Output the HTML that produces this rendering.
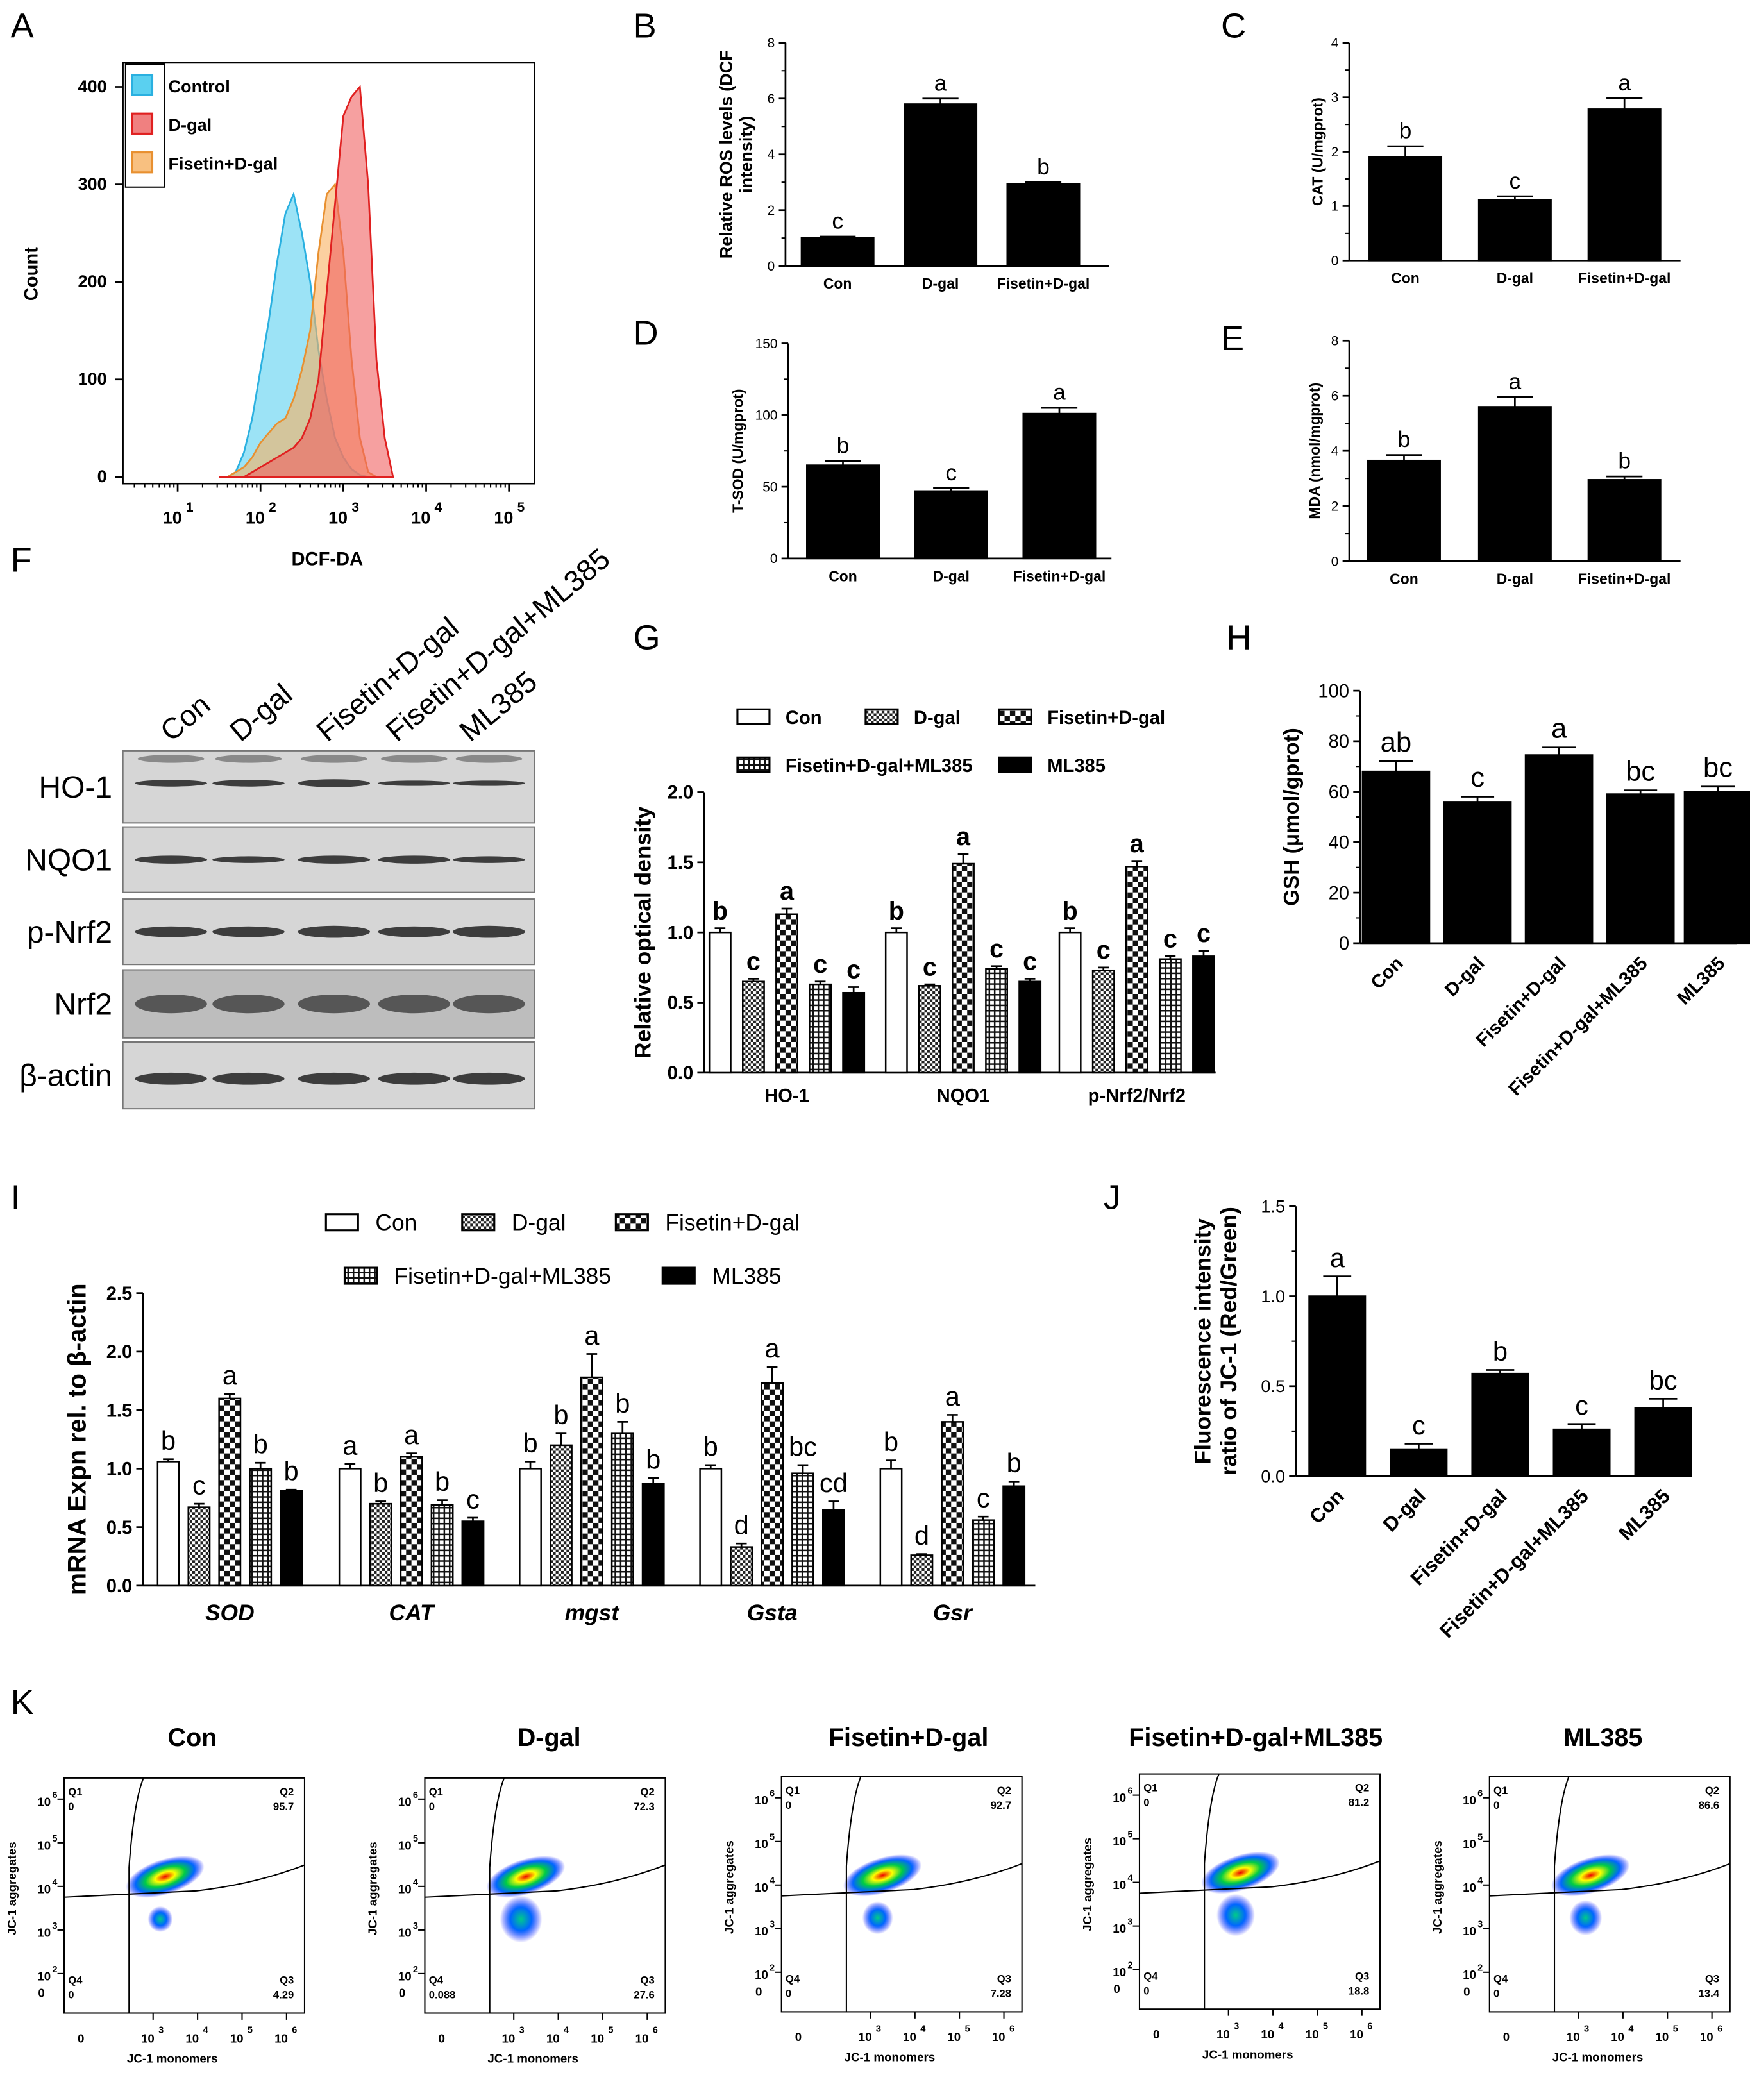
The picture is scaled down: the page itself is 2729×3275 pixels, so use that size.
<!DOCTYPE html>
<html><head><meta charset="utf-8"><style>
html,body{margin:0;padding:0;background:#fff}
svg{display:block;font-family:"Liberation Sans",Arial,sans-serif}
</style></head><body>
<svg id="fig" xmlns="http://www.w3.org/2000/svg" width="2729" height="3275" viewBox="0 0 1310 1572">
<defs>
<pattern id="pDgal" width="4" height="4" patternUnits="userSpaceOnUse"><rect width="4" height="4" fill="#fff"/><rect width="2" height="2" fill="#222"/><rect x="2" y="2" width="2" height="2" fill="#222"/></pattern>
<pattern id="pFis" width="8" height="8" patternUnits="userSpaceOnUse"><rect width="8" height="8" fill="#fff"/><rect width="4" height="4" fill="#111"/><rect x="4" y="4" width="4" height="4" fill="#111"/></pattern>
<pattern id="pFdm" width="4" height="4" patternUnits="userSpaceOnUse"><rect width="4" height="4" fill="#fff"/><rect width="4" height="1.2" fill="#111"/><rect width="1.2" height="4" fill="#111"/></pattern>
<radialGradient id="blob"><stop offset="0" stop-color="#e00"/><stop offset="0.25" stop-color="#ff0"/><stop offset="0.5" stop-color="#0c4"/><stop offset="0.75" stop-color="#06f"/><stop offset="1" stop-color="#00f" stop-opacity="0"/></radialGradient>
<radialGradient id="blobB"><stop offset="0" stop-color="#0c8"/><stop offset="0.5" stop-color="#06f"/><stop offset="1" stop-color="#00f" stop-opacity="0"/></radialGradient>
</defs>
<g id="root"></g>
</svg>
<script>
// ---------- data ----------
const histLog=[1.5,1.6,1.7,1.8,1.9,2.0,2.1,2.2,2.3,2.4,2.5,2.6,2.7,2.8,2.9,3.0,3.1,3.2,3.3,3.4,3.5,3.6];
const histControl=[0,0,5,25,60,110,160,220,270,290,250,200,130,80,40,20,8,2,0,0,0,0];
const histDgal=[0,0,0,0,5,10,15,20,25,30,40,60,100,190,280,370,390,400,300,120,40,0];
const histFis=[0,0,5,10,20,35,45,55,60,80,110,150,230,290,300,230,120,40,5,0,0,0];
const groups3=["Con","D-gal","Fisetin+D-gal"];
const rosVals=[1.0,5.8,2.95], rosErr=[0.05,0.2,0.05], rosLet=["c","a","b"];
const catVals=[1.9,1.12,2.78], catErr=[0.2,0.06,0.2], catLet=["b","c","a"];
const sodVals=[65,47,101], sodErr=[3,2,4], sodLet=["b","c","a"];
const mdaVals=[3.65,5.6,2.95], mdaErr=[0.2,0.35,0.12], mdaLet=["b","a","b"];
const groups5=["Con","D-gal","Fisetin+D-gal","Fisetin+D-gal+ML385","ML385"];
const gCats=["HO-1","NQO1","p-Nrf2/Nrf2"];
const gVals=[[1.0,0.65,1.13,0.63,0.57],[1.0,0.62,1.49,0.74,0.65],[1.0,0.73,1.47,0.81,0.83]];
const gErr=[[0.03,0.02,0.04,0.02,0.04],[0.03,0.01,0.07,0.02,0.02],[0.03,0.02,0.04,0.02,0.04]];
const gLet=[["b","c","a","c","c"],["b","c","a","c","c"],["b","c","a","c","c"]];
const gshVals=[68,56,74.5,59,60], gshErr=[4,2,3,1.5,2], gshLet=["ab","c","a","bc","bc"];
const iCats=["SOD","CAT","mgst","Gsta","Gsr"];
const iVals=[[1.06,0.67,1.6,1.0,0.81],[1.0,0.7,1.1,0.69,0.55],[1.0,1.2,1.78,1.3,0.87],[1.0,0.33,1.73,0.96,0.65],[1.0,0.26,1.4,0.56,0.85]];
const iErr=[[0.02,0.03,0.04,0.05,0.01],[0.04,0.02,0.03,0.04,0.03],[0.06,0.1,0.2,0.1,0.05],[0.03,0.03,0.14,0.07,0.07],[0.07,0.01,0.06,0.03,0.04]];
const iLet=[["b","c","a","b","b"],["a","b","a","b","c"],["b","b","a","b","b"],["b","d","a","bc","cd"],["b","d","a","c","b"]];
const jVals=[1.0,0.15,0.57,0.26,0.38], jErr=[0.11,0.03,0.02,0.03,0.05], jLet=["a","c","b","c","bc"];
const kTitles=["Con","D-gal","Fisetin+D-gal","Fisetin+D-gal+ML385","ML385"];
const kQ2=["95.7","72.3","92.7","81.2","86.6"], kQ3=["4.29","27.6","7.28","18.8","13.4"], kQ4=["0","0.088","0","0","0"];

// ---------- helpers ----------
const NS="http://www.w3.org/2000/svg", root=document.getElementById('root');
function el(tag,attrs,parent,txt){const e=document.createElementNS(NS,tag);for(const k in attrs)e.setAttribute(k,attrs[k]);if(txt!==undefined)e.textContent=txt;(parent||root).appendChild(e);return e;}
function T(x,y,s,size,opts){opts=opts||{};const e=el('text',{x:x,y:y,'font-size':size,'text-anchor':opts.a||'middle','font-weight':opts.b?'bold':'normal','font-style':opts.i?'italic':'normal',fill:'#000'},opts.p,s);if(opts.r!==undefined)e.setAttribute('transform','rotate('+opts.r+' '+x+' '+y+')');return e;}
function L(x1,y1,x2,y2,w,p){const e=el('line',{x1:x1,y1:y1,x2:x2,y2:y2,stroke:'#000','stroke-width':w||1.3},p);return e;}
function panelLetter(s,x,y){T(x,y,s,26,{a:'start',n:'panel-letter-'+s.toLowerCase()});}

function barChart(c){
  const g=el('g',{});
  const sy=v=>c.y0-(v/c.ymax)*(c.y0-c.y1);
  L(c.x0,c.y1,c.x0,c.y0,1.3,g);L(c.x0,c.y0,c.x2,c.y0,1.3,g);
  c.ticks.forEach(t=>{const y=sy(t);L(c.x0-5,y,c.x0,y,1.3,g);T(c.x0-8,y+c.ts*0.35,c.dec?t.toFixed(c.dec):String(t),c.ts,{a:'end',p:g,b:c.tb,n:'y-tick-label'});});
  if(c.minor)c.ticks.forEach((t,i)=>{if(i<c.ticks.length-1){const y=sy((t+c.ticks[i+1])/2);L(c.x0-3,y,c.x0,y,1,g);}});
  c.vals.forEach((v,i)=>{const cx=c.cx[i],w=c.bw,y=sy(v);
    const r=el('rect',{x:cx-w/2,y:y,width:w,height:c.y0-y,fill:c.fills?c.fills[i]:'#000',stroke:'#000','stroke-width':1.2},g);
    
    const ye=sy(v+c.err[i]);L(cx,y,cx,ye,1.3,g);L(cx-w*0.25,ye,cx+w*0.25,ye,1.3,g);
    T(cx,ye-c.ls*0.35,c.lets[i],c.ls,{p:g,b:c.lb,n:'significance-letter'});
  });
  if(c.cats)c.cats.forEach((s,i)=>{if(c.rot)T(c.cx[i]+6,c.y0+16,s,c.cs,{a:'end',r:-45,p:g,b:c.cb,n:'x-tick-label'});else T(c.cx[i],c.y0+c.cs+6,s,c.cs,{p:g,b:c.cb,n:'x-tick-label'});});
  if(c.title){const tx=c.tx,ty=(c.y0+c.y1)/2;c.title.forEach((s,k)=>T(tx+k*c.tsz*1.15,ty,s,c.tsz,{r:-90,p:g,b:true,n:'y-axis-title'}));}
  return {g:g,sy:sy};
}

// ---------- Panel A ----------
panelLetter("A",8,28);
(function(){
  const g=el('g',{});
  const sx=l=>133+(l-1)*62, sy=c=>357-c*0.73;
  el('rect',{x:92,y:47,width:308,height:315,fill:'none',stroke:'#000','stroke-width':1.2},g);
  function area(arr,fill,stroke,name){let d='M'+sx(histLog[0])+','+sy(0);histLog.forEach((l,i)=>d+=' L'+sx(l).toFixed(1)+','+sy(arr[i]).toFixed(1));d+=' L'+sx(histLog[histLog.length-1])+','+sy(0)+'Z';
    const p=el('path',{d:d,fill:fill,stroke:stroke,'stroke-width':1.3,'fill-opacity':0.6},g);}
  area(histControl,'#5ad0f0','#2ab0e0','histogram-control');
  area(histFis,'#f8b060','#e89030','histogram-fisetin');
  area(histDgal,'#f06060','#e02020','histogram-dgal');
  [0,100,200,300,400].forEach(t=>{L(86,sy(t),92,sy(t),1.3,g);T(80,sy(t)+4,String(t),13,{a:'end',b:true,p:g,n:'y-tick-label'});});
  [1,2,3,4,5].forEach(d=>{L(sx(d),362,sx(d),368,1.3,g);for(let k=2;k<10;k++){const x=sx(d-1+Math.log10(k));if(x>92)L(x,362,x,365,1,g);}
    T(sx(d)-4,392,'10',13,{b:true,p:g,n:'x-tick-label'});T(sx(d)+9,383,String(d),10,{b:true,p:g,n:'x-tick-exp'});});
  T(245,423,'DCF-DA',14,{b:true,p:g,n:'x-axis-title'});
  T(28,205,'Count',14,{b:true,r:-90,p:g,n:'y-axis-title'});
  el('rect',{x:94,y:48,width:29,height:92,fill:'#fff',stroke:'#000','stroke-width':1},g);
  [['Control','#5ad0f0','#2ab0e0'],['D-gal','#f08080','#e02020'],['Fisetin+D-gal','#f8c080','#e89030']].forEach((e,i)=>{const y=56+i*29;
    const r=el('rect',{x:99,y:y,width:15,height:15,fill:e[1],stroke:e[2],'stroke-width':1.5},g);
    T(126,y+13,e[0],13,{a:'start',b:true,p:g,n:'legend-entry'});});
})();

// ---------- B-E ----------
panelLetter("B",474,28);
barChart({name:'ros-chart',x0:588,x2:830,y0:199,y1:32,ymax:8,ticks:[0,2,4,6,8],ts:10,cx:[627,704,781],bw:54,vals:rosVals,err:rosErr,lets:rosLet,ls:17,cats:groups3,cs:11,cb:true,title:['Relative ROS levels (DCF','intensity)'],tx:548,tsz:13,minor:true});
panelLetter("C",914,28);
barChart({name:'cat-chart',x0:1010,x2:1258,y0:195,y1:32,ymax:4,ticks:[0,1,2,3,4],ts:10,cx:[1052,1134,1216],bw:54,vals:catVals,err:catErr,lets:catLet,ls:17,cats:groups3,cs:11,cb:true,title:['CAT (U/mgprot)'],tx:990,tsz:11,minor:true});
panelLetter("D",474,258);
barChart({name:'sod-chart',x0:590,x2:832,y0:418,y1:257,ymax:150,ticks:[0,50,100,150],ts:10,cx:[631,712,793],bw:54,vals:sodVals,err:sodErr,lets:sodLet,ls:17,cats:groups3,cs:11,cb:true,title:['T-SOD (U/mgprot)'],tx:556,tsz:11,minor:true});
panelLetter("E",914,262);
barChart({name:'mda-chart',x0:1010,x2:1258,y0:420,y1:255,ymax:8,ticks:[0,2,4,6,8],ts:10,cx:[1051,1134,1216],bw:54,vals:mdaVals,err:mdaErr,lets:mdaLet,ls:17,cats:groups3,cs:11,cb:true,title:['MDA (nmol/mgprot)'],tx:988,tsz:11,minor:true});

// ---------- F western blot ----------
panelLetter("F",8,428);
(function(){
  const g=el('g',{});
  const lanes=[128,186,250,310,366];
  const rows=[["HO-1",562,616,0.45,[5,5,6,4,4]],["NQO1",619,668,0.5,[6,5,6,6,5]],["p-Nrf2",673,722,0.5,[8,8,9,8,9]],["Nrf2",726,777,0.5,[14,14,14,14,14]],["β-actin",780,830,0.55,[9,9,9,9,9]]];
  rows.forEach(r=>{const bg=r[0]=="Nrf2"?'#bdbdbd':'#d6d6d6';
    const box=el('rect',{x:92,y:r[1],width:308,height:r[2]-r[1],fill:bg,stroke:'#777','stroke-width':1},g);
    const cy=r[1]+(r[2]-r[1])*r[3];
    lanes.forEach((x,i)=>{el('ellipse',{cx:x,cy:cy,rx:27,ry:r[4][i]/2,fill:r[0]=="Nrf2"?'#444':'#222','fill-opacity':0.85},g);});
    if(r[0]=="HO-1")lanes.forEach(x=>el('ellipse',{cx:x,cy:r[1]+6,rx:25,ry:3,fill:'#555','fill-opacity':0.6},g));
    T(84,(r[1]+r[2])/2+8,r[0],23,{a:'end',p:g,n:'blot-label'});});
  const heads=["Con","D-gal","Fisetin+D-gal","Fisetin+D-gal+ML385","ML385"],hx=[128,180,245,297,352];
  heads.forEach((h,i)=>T(hx[i],556,h,22,{a:'start',r:-40,p:g,n:'lane-label'}));
})();

// ---------- G ----------
panelLetter("G",474,486);
(function(){
  const fills=['#fff','url(#pDgal)','url(#pFis)','url(#pFdm)','#000'];
  const gc=[589,721,851],step=25;
  const cx=[],vals=[],err=[],lets=[],fl=[],bn=[];
  gVals.forEach((arr,j)=>arr.forEach((v,i)=>{cx.push(gc[j]+(i-2)*step);vals.push(v);err.push(gErr[j][i]);lets.push(gLet[j][i]);fl.push(fills[i]);bn.push(gCats[j]+'-'+groups5[i]);}));
  barChart({name:'optical-density-chart',x0:527,x2:910,y0:803,y1:593,ymax:2,ticks:[0,0.5,1,1.5,2],dec:1,ts:14,tb:true,cx:cx,bw:16,vals:vals,err:err,lets:lets,ls:19,lb:true,fills:fl,barNames:bn,title:['Relative optical density'],tx:487,tsz:17});
  gCats.forEach((s,j)=>T(gc[j],825,s,14,{b:true,n:'x-tick-label'}));
  const leg=[[552,537,0],[648,537,1],[748,537,2],[552,573,3],[748,573,4]],names=["Con","D-gal","Fisetin+D-gal","Fisetin+D-gal+ML385","ML385"];
  leg.forEach((p,k)=>{const r=el('rect',{x:p[0],y:p[1]-6,width:24,height:11,fill:fills[p[2]],stroke:'#000','stroke-width':1.5});T(p[0]+36,p[1]+5,names[k],14,{a:'start',b:true,n:'legend-entry'});});
})();

// ---------- H ----------
panelLetter("H",918,486);
barChart({name:'gsh-chart',x0:1018,x2:1300,y0:706,y1:517,ymax:100,ticks:[0,20,40,60,80,100],ts:14,cx:[1045,1106,1167,1228,1286],bw:50,vals:gshVals,err:gshErr,lets:gshLet,ls:21,cats:groups5,cs:14,cb:true,rot:true,title:['GSH (μmol/gprot)'],tx:972,tsz:16,minor:true});

// ---------- I ----------
panelLetter("I",8,905);
(function(){
  const fills=['#fff','url(#pDgal)','url(#pFis)','url(#pFdm)','#000'];
  const gc=[172,308,443,578,713],step=23;
  const cx=[],vals=[],err=[],lets=[],fl=[],bn=[];
  iVals.forEach((arr,j)=>arr.forEach((v,i)=>{cx.push(gc[j]+(i-2)*step);vals.push(v);err.push(iErr[j][i]);lets.push(iLet[j][i]);fl.push(fills[i]);bn.push(iCats[j]+'-'+groups5[i]);}));
  barChart({name:'mrna-chart',x0:107,x2:775,y0:1187,y1:968,ymax:2.5,ticks:[0,0.5,1,1.5,2,2.5],dec:1,ts:14,tb:true,cx:cx,bw:16,vals:vals,err:err,lets:lets,ls:20,fills:fl,barNames:bn,title:['mRNA  Expn rel. to β-actin'],tx:64,tsz:19});
  iCats.forEach((s,j)=>T(gc[j],1213,s,17,{b:true,i:true,n:'x-tick-label'}));
  const leg=[[244,915,0],[346,915,1],[461,915,2],[258,955,3],[496,955,4]],names=["Con","D-gal","Fisetin+D-gal","Fisetin+D-gal+ML385","ML385"];
  leg.forEach((p,k)=>{const r=el('rect',{x:p[0],y:p[1]-6,width:24,height:12,fill:fills[p[2]],stroke:'#000','stroke-width':1.5});T(p[0]+37,p[1]+6,names[k],17,{a:'start',n:'legend-entry'});});
})();

// ---------- J ----------
panelLetter("J",826,905);
barChart({name:'jc1-ratio-chart',x0:970,x2:1265,y0:1105,y1:903,ymax:1.5,ticks:[0,0.5,1,1.5],dec:1,ts:13,cx:[1001,1062,1123,1184,1245],bw:42,vals:jVals,err:jErr,lets:jLet,ls:20,cats:groups5,cs:15,cb:true,rot:true,title:['Fluorescence intensity','ratio of JC-1 (Red/Green)'],tx:906,tsz:17,minor:true});

// ---------- K ----------
panelLetter("K",8,1283);
(function(){
  const lefts=[48,318,585,853,1115],tops=[1331,1331,1330,1328,1330],tcx=[144,411,680,940,1200];
  kTitles.forEach((t,k)=>{
    const g=el('g',{});
    const x=lefts[k],y=tops[k],w=180,h=176;
    T(tcx[k],1307,t,19,{b:true,p:g,n:'plot-title'});
    el('rect',{x:x,y:y,width:w,height:h,fill:'#fff',stroke:'#000','stroke-width':1},g);
    el('ellipse',{cx:x+w*0.42,cy:y+h*0.42,rx:w*0.17,ry:h*0.075,fill:'url(#blob)',transform:'rotate(-18 '+(x+w*0.42)+' '+(y+h*0.42)+')'},g);
    const lowF=[0.15,0.6,0.3,0.5,0.35][k];
    el('ellipse',{cx:x+w*0.40,cy:y+h*0.6,rx:w*0.04+w*0.08*lowF,ry:h*0.04+h*0.1*lowF,fill:'url(#blobB)'},g);
    el('path',{d:'M'+(x+w*0.27)+','+(y+h)+' L'+(x+w*0.27)+','+(y+h*0.38)+' Q'+(x+w*0.29)+','+(y+h*0.1)+' '+(x+w*0.33)+','+y,fill:'none',stroke:'#000','stroke-width':1},g);
    el('path',{d:'M'+x+','+(y+h*0.507)+' L'+(x+w*0.55)+','+(y+h*0.48)+' Q'+(x+w*0.8)+','+(y+h*0.45)+' '+(x+w)+','+(y+h*0.37),fill:'none',stroke:'#000','stroke-width':1},g);
    T(x+3,y+13,'Q1',8,{a:'start',b:true,p:g,n:'quadrant-label'});T(x+3,y+24,'0',8,{a:'start',b:true,p:g,n:'quadrant-value'});
    T(x+w-8,y+13,'Q2',8,{a:'end',b:true,p:g,n:'quadrant-label'});T(x+w-8,y+24,kQ2[k],8,{a:'end',b:true,p:g,n:'quadrant-value'});
    T(x+3,y+h-22,'Q4',8,{a:'start',b:true,p:g,n:'quadrant-label'});T(x+3,y+h-11,kQ4[k],8,{a:'start',b:true,p:g,n:'quadrant-value'});
    T(x+w-8,y+h-22,'Q3',8,{a:'end',b:true,p:g,n:'quadrant-label'});T(x+w-8,y+h-11,kQ3[k],8,{a:'end',b:true,p:g,n:'quadrant-value'});
    [6,5,4,3,2].forEach((d,i)=>{const yy=y+h*(0.09+i*0.1855);L(x-5,yy,x,yy,1,g);T(x-10,yy+5,'10',9,{a:'end',b:true,p:g,n:'y-tick-label'});T(x-7,yy-1,String(d),7,{b:true,p:g,n:'y-tick-exp'});});
    T(x-17,y+h-12,'0',9,{b:true,p:g,n:'y-tick-label'});
    [3,4,5,6].forEach((d,i)=>{const xx=x+w*(0.37+i*0.185);L(xx,y+h,xx,y+h+5,1,g);T(xx-4,y+h+22,'10',9,{b:true,p:g,n:'x-tick-label'});T(xx+6,y+h+15,String(d),7,{b:true,p:g,n:'x-tick-exp'});});
    T(x+w*0.07,y+h+22,'0',9,{b:true,p:g,n:'x-tick-label'});
    T(x+w*0.45,y+h+37,'JC-1 monomers',9,{b:true,p:g,n:'x-axis-title'});
    T(x-36,y+h*0.47,'JC-1 aggregates',9,{b:true,r:-90,p:g,n:'y-axis-title'});
  });
})();
</script>
</body></html>
